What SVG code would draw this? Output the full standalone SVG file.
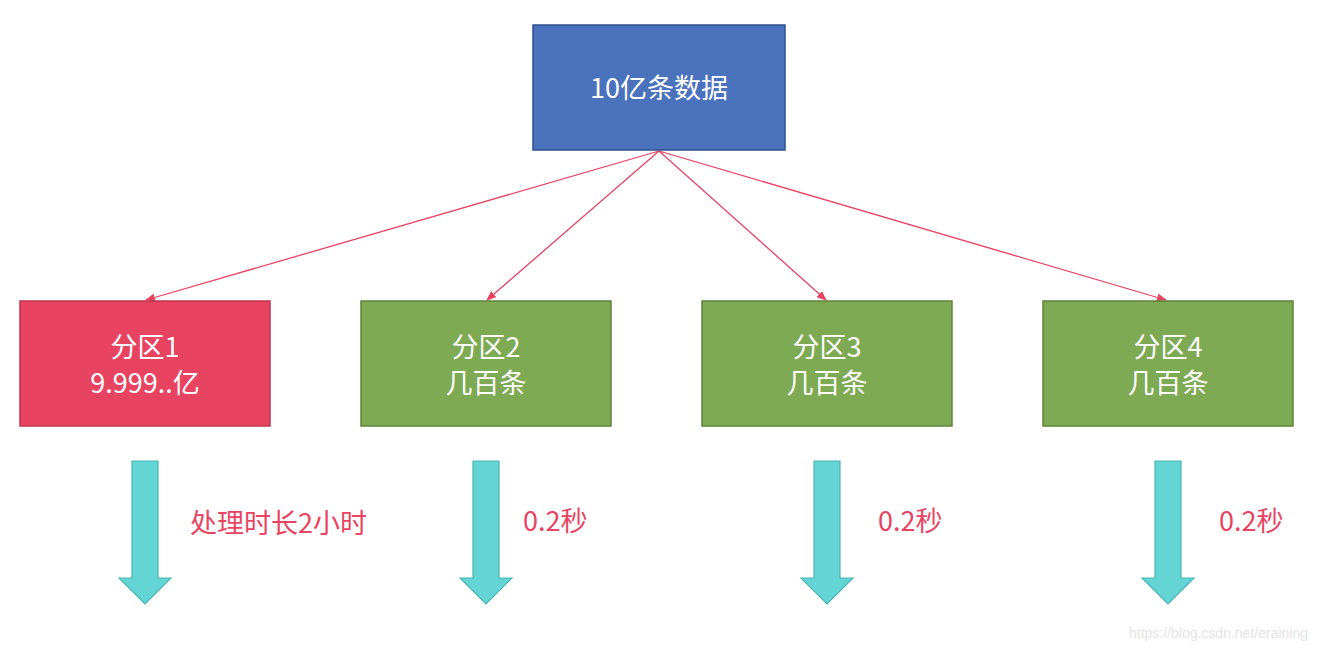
<svg xmlns="http://www.w3.org/2000/svg" width="1318" height="650" viewBox="0 0 1318 650">
<defs>
<style>
text{font-family:"Noto Sans CJK SC","Noto Sans",sans-serif;text-anchor:middle}
.bt{fill:#fff;font-size:27px}
.lb{fill:#e94362;font-size:27px;text-anchor:start}
.red{fill:#e94362;stroke:#c0354f;stroke-width:1.5}
.grn{fill:#7daa53;stroke:#5d843a;stroke-width:1.5}
.ln{stroke:#e94362;stroke-width:1.3;fill:none;marker-end:url(#ah)}
.ba{fill:#63d5d4;stroke:#4bb5b4;stroke-width:1.2}
</style>
<marker id="ah" markerWidth="10" markerHeight="8" refX="9" refY="4" orient="auto" markerUnits="userSpaceOnUse"><path d="M0,0L10,4L0,8z" fill="#e94362"/></marker>
</defs>
<rect width="1318" height="650" fill="#fff"/>
<g id="connectors">
<path class="ln" d="M659,151L146,300"/>
<path class="ln" d="M659,151L487,300"/>
<path class="ln" d="M659,151L826,300"/>
<path class="ln" d="M659,151L1166,300"/>
</g>
<g id="top"><rect x="533" y="25" width="252" height="125" fill="#4a72bd" stroke="#2f528f" stroke-width="1.5"/><text class="bt" x="659" y="98">10亿条数据</text></g>
<g id="p1"><rect class="red" x="20" y="301" width="250" height="125"/><text class="bt" x="145" y="357">分区1</text><text class="bt" x="145" y="393">9.999..亿</text></g>
<g id="p2"><rect class="grn" x="361" y="301" width="250" height="125"/><text class="bt" x="486" y="357">分区2</text><text class="bt" x="486" y="393">几百条</text></g>
<g id="p3"><rect class="grn" x="702" y="301" width="250" height="125"/><text class="bt" x="827" y="357">分区3</text><text class="bt" x="827" y="393">几百条</text></g>
<g id="p4"><rect class="grn" x="1043" y="301" width="250" height="125"/><text class="bt" x="1168" y="357">分区4</text><text class="bt" x="1168" y="393">几百条</text></g>
<g id="arrows">
<path class="ba" d="M132,461H158V578H171L145,604L119,578H132Z"/>
<path class="ba" d="M473,461H499V578H512L486,604L460,578H473Z"/>
<path class="ba" d="M814,461H840V578H853L827,604L801,578H814Z"/>
<path class="ba" d="M1155,461H1181V578H1194L1168,604L1142,578H1155Z"/>
</g>
<text class="lb" x="190" y="533">处理时长2小时</text>
<text class="lb" x="523" y="531">0.2秒</text>
<text class="lb" x="878" y="531">0.2秒</text>
<text class="lb" x="1219" y="531">0.2秒</text>
<text x="1308" y="638" style="text-anchor:end;font-family:'Liberation Sans',sans-serif;font-size:14px;fill:#e4e4e4">https://blog.csdn.net/eraining</text>
</svg>
